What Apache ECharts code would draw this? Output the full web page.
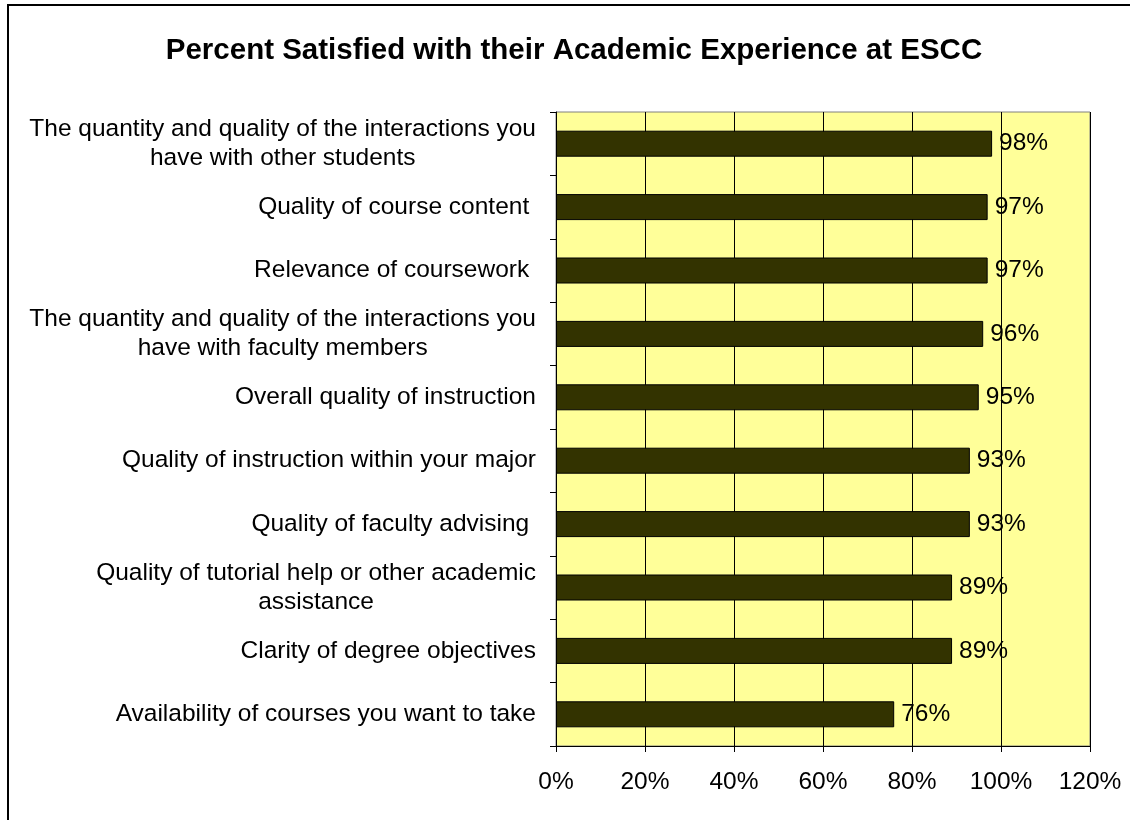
<!DOCTYPE html>
<html>
<head>
<meta charset="utf-8">
<script src="https://cdn.jsdelivr.net/npm/echarts@6/dist/echarts.min.js"></script>
<style>
  html, body { margin: 0; padding: 0; background: #ffffff; }
  #chart { width: 1130px; height: 820px; }
</style>
</head>
<body>
<div id="chart"></div>
<script>
const titleText = 'Percent Satisfied with their Academic Experience at ESCC';
const categories = [
  'The quantity and quality of the interactions you\nhave with other students',
  'Quality of course content ',
  'Relevance of coursework ',
  'The quantity and quality of the interactions you\nhave with faculty members',
  'Overall quality of instruction',
  'Quality of instruction within your major',
  'Quality of faculty advising ',
  'Quality of tutorial help or other academic\nassistance',
  'Clarity of degree objectives',
  'Availability of courses you want to take'
];
const percentSatisfied = [98, 97, 97, 96, 95, 93, 93, 89, 89, 76];
const xTicks = [0, 20, 40, 60, 80, 100, 120];

const FONT = '"Liberation Sans", Arial, Helvetica, sans-serif';
const chart = echarts.init(document.getElementById('chart'), null, { renderer: 'canvas' });

chart.setOption({
  animation: false,
  backgroundColor: '#ffffff',
  title: {
    text: titleText,
    left: 569,
    top: 31,
    textAlign: 'center',
    textStyle: { fontFamily: FONT, fontSize: 29.5, fontWeight: 'bold', color: '#000000' }
  },
  graphic: [{
    type: 'rect',
    shape: { x: 8, y: 5, width: 1140, height: 840 },
    style: { fill: 'none', stroke: '#000000', lineWidth: 2 },
    silent: true
  }],
  grid: {
    left: 556, right: 40, top: 112, bottom: 74,
    show: true,
    backgroundColor: '#FFFF99',
    borderColor: '#808080',
    borderWidth: 1
  },
  xAxis: {
    type: 'value',
    min: xTicks[0],
    max: xTicks[xTicks.length - 1],
    interval: 20,
    axisLine: { show: true, lineStyle: { color: '#000000', width: 1 } },
    axisTick: { show: true, length: 6, lineStyle: { color: '#000000' } },
    splitLine: { show: true, lineStyle: { color: '#000000', width: 1 } },
    axisLabel: {
      formatter: '{value}%',
      margin: 24,
      fontFamily: FONT, fontSize: 24.5, color: '#000000'
    }
  },
  yAxis: {
    type: 'category',
    data: categories,
    inverse: true,
    axisLine: { show: true, lineStyle: { color: '#000000', width: 1 } },
    axisTick: { show: true, length: 6, inside: false, lineStyle: { color: '#000000' } },
    splitLine: { show: false },
    axisLabel: {
      margin: 20,
      interval: 0,
      formatter: function (v) {
        return v.split('\n').map(function (l) { return '{c|' + l + '}'; }).join('\n');
      },
      rich: {
        c: { align: 'center', fontFamily: FONT, fontSize: 24.5, lineHeight: 29, color: '#000000' }
      }
    }
  },
  series: [{
    type: 'bar',
    data: percentSatisfied,
    barWidth: 26,
    itemStyle: { color: '#333300', borderColor: '#000000', borderWidth: 1 },
    label: {
      show: true,
      position: 'right',
      distance: 7,
      formatter: '{c}%',
      fontFamily: FONT, fontSize: 24.5, color: '#000000'
    }
  }]
});
</script>
</body>
</html>
